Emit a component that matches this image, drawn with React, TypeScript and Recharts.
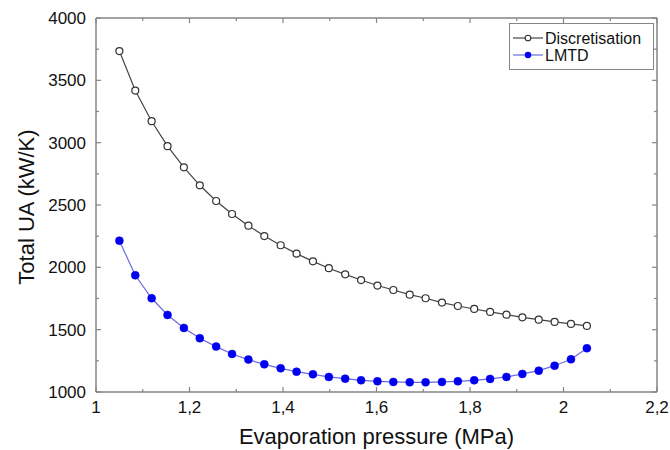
import { LineChart, Line, XAxis, YAxis } from "recharts";

// evaporation pressure (MPa)
const pressure = [
  1.05, 1.084, 1.119, 1.153, 1.188, 1.222, 1.257, 1.291, 1.326, 1.36,
  1.395, 1.429, 1.464, 1.498, 1.533, 1.567, 1.602, 1.636, 1.671, 1.705,
  1.74, 1.774, 1.809, 1.843, 1.878, 1.912, 1.947, 1.981, 2.016, 2.05,
];
// total UA (kW/K)
const discretisation = [
  3735, 3418, 3172, 2972, 2802, 2658, 2532, 2428, 2334, 2251,
  2177, 2110, 2048, 1993, 1944, 1898, 1854, 1818, 1781, 1752,
  1717, 1690, 1666, 1642, 1620, 1599, 1580, 1562, 1546, 1530,
];
const lmtd = [
  2214, 1936, 1752, 1618, 1514, 1431, 1364, 1305, 1260, 1222,
  1190, 1163, 1142, 1121, 1107, 1094, 1086, 1081, 1078, 1078,
  1081, 1086, 1094, 1105, 1121, 1145, 1171, 1211, 1262, 1351,
];

const xTicks = [1, 1.1, 1.2, 1.3, 1.4, 1.5, 1.6, 1.7, 1.8, 1.9, 2, 2.1, 2.2];
const yTicks = [1000, 1250, 1500, 1750, 2000, 2250, 2500, 2750, 3000, 3250, 3500, 3750, 4000];

const rows = pressure.map((p, i) => ({ p, disc: discretisation[i], lmtd: lmtd[i] }));

const FONT = "'Liberation Sans', Arial, sans-serif";
const FRAME = "#858585";
// plot box edges (chart margins below put them here)
const PLOT_TOP = 18;
const PLOT_RIGHT = 657;

const isMajorX = (v: number) => Math.round(v * 10) % 2 === 0;
const isMajorY = (v: number) => Math.round(v) % 500 === 0;
const fmtX = (v: number) => String(Math.round(v * 10) / 10).replace(".", ",");

// bottom axis tick: inward marks on bottom and top edges + label
const XTick = (props: any) => {
  const { x, y, payload } = props;
  const major = isMajorX(payload.value);
  const len = major ? 5 : 3;
  return (
    <g>
      <line x1={x} x2={x} y1={y} y2={y - len} stroke={FRAME} strokeWidth={1.2} />
      <line x1={x} x2={x} y1={PLOT_TOP} y2={PLOT_TOP + len} stroke={FRAME} strokeWidth={1.2} />
      {major && (
        <text x={x} y={y + 21} textAnchor="middle" fontSize={17} fontFamily={FONT} fill="#111">
          {fmtX(payload.value)}
        </text>
      )}
    </g>
  );
};

// left axis tick: inward marks on left and right edges + label
const YTick = (props: any) => {
  const { x, y, payload } = props;
  const major = isMajorY(payload.value);
  const len = major ? 5 : 3;
  return (
    <g>
      <line x1={x} x2={x + len} y1={y} y2={y} stroke={FRAME} strokeWidth={1.2} />
      <line x1={PLOT_RIGHT} x2={PLOT_RIGHT - len} y1={y} y2={y} stroke={FRAME} strokeWidth={1.2} />
      {major && (
        <text x={x - 10} y={y + 6} textAnchor="end" fontSize={17} fontFamily={FONT} fill="#111">
          {payload.value}
        </text>
      )}
    </g>
  );
};

export default function App() {
  return (
    <div style={{ position: "absolute", left: 0, top: 0, width: 670, height: 450, background: "#fff", fontFamily: FONT }}>
      <LineChart width={670} height={450} data={rows} margin={{ top: 17, right: 12, bottom: 0, left: 16 }}>
        <XAxis
          dataKey="p"
          type="number"
          domain={[1, 2.2]}
          ticks={xTicks}
          interval={0}
          height={58}
          tickSize={0}
          tickMargin={0}
          tickLine={false}
          axisLine={{ stroke: FRAME, strokeWidth: 1.5 }}
          tick={XTick}
          label={{
            content: (p: any) => (
              <text x={p.viewBox.x + p.viewBox.width / 2} y={p.viewBox.y + 52} textAnchor="middle" fontSize={22} fontFamily={FONT} fill="#111">
                Evaporation pressure (MPa)
              </text>
            ),
          }}
        />
        <XAxis
          xAxisId="top"
          orientation="top"
          dataKey="p"
          type="number"
          domain={[1, 2.2]}
          height={1}
          tick={false}
          tickLine={false}
          axisLine={{ stroke: FRAME, strokeWidth: 1.5 }}
        />
        <YAxis
          type="number"
          domain={[1000, 4000]}
          ticks={yTicks}
          interval={0}
          width={80}
          tickSize={0}
          tickMargin={0}
          tickLine={false}
          axisLine={{ stroke: FRAME, strokeWidth: 1.5 }}
          tick={YTick}
          label={{
            content: (p: any) => {
              const cx = 34;
              const cy = p.viewBox.y + p.viewBox.height / 2 + 2;
              return (
                <text x={cx} y={cy} transform={`rotate(-90 ${cx} ${cy})`} textAnchor="middle" fontSize={22} fontFamily={FONT} fill="#111">
                  Total UA (kW/K)
                </text>
              );
            },
          }}
        />
        <YAxis
          yAxisId="right"
          orientation="right"
          type="number"
          domain={[1000, 4000]}
          width={1}
          tick={false}
          tickLine={false}
          axisLine={{ stroke: FRAME, strokeWidth: 1.5 }}
        />
        <Line
          dataKey="disc"
          type="linear"
          stroke="#444"
          strokeWidth={1.2}
          dot={{ r: 3.5, stroke: "#333", strokeWidth: 1.2, fill: "#fff" }}
          isAnimationActive={false}
        />
        <Line
          dataKey="lmtd"
          type="linear"
          stroke="#6a6ae0"
          strokeWidth={1.2}
          dot={{ r: 4, stroke: "#0000ee", strokeWidth: 0.5, fill: "#0000ee" }}
          isAnimationActive={false}
        />
      </LineChart>
      <div
        style={{
          position: "absolute",
          left: 509,
          top: 23,
          width: 145,
          height: 47,
          border: `1.5px solid ${FRAME}`,
          background: "#fff",
          boxSizing: "border-box",
        }}
      >
        <svg width={145} height={47} style={{ position: "absolute", left: -1.5, top: -1.5 }}>
          <line x1={4} x2={34} y1={15} y2={15} stroke="#444" strokeWidth={1.2} />
          <circle cx={19} cy={15} r={2.8} fill="#fff" stroke="#333" strokeWidth={1.1} />
          <text x={36} y={20.5} fontSize={16} fontFamily={FONT} fill="#111">Discretisation</text>
          <line x1={4} x2={34} y1={32} y2={32} stroke="#6a6ae0" strokeWidth={1.2} />
          <circle cx={19} cy={32} r={3.2} fill="#0000ee" />
          <text x={36} y={37.5} fontSize={16} fontFamily={FONT} fill="#111">LMTD</text>
        </svg>
      </div>
    </div>
  );
}
